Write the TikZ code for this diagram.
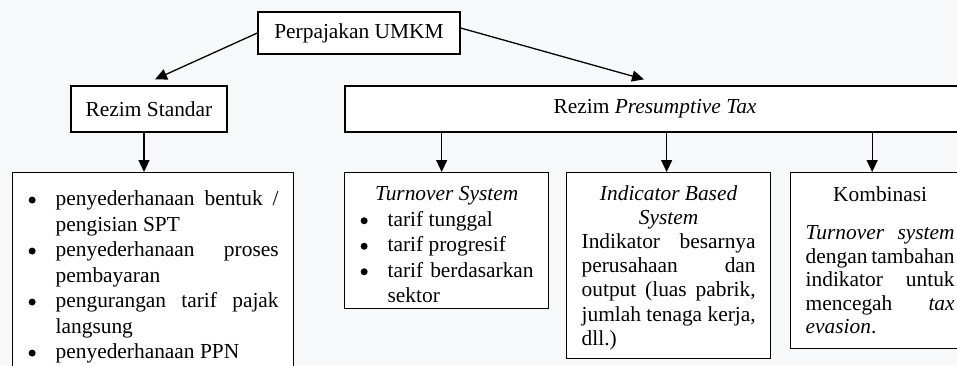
\documentclass[tikz,border=0pt]{standalone}
\usepackage{fontspec}
\setmainfont{Liberation Serif}
\usepackage{tikz}
\usetikzlibrary{arrows.meta}
\definecolor{paper}{RGB}{247,248,250}
\hyphenpenalty=10000
\exhyphenpenalty=10000

% one bullet line of a list
\newcommand{\bitem}[1]{\par\noindent\hangindent=14pt\hangafter=1\makebox[14pt][l]{\hspace{0.5pt}\tikz[baseline=0pt]\fill[black] (0,2.8pt) circle (1.75pt);}#1\par}

\begin{document}
\begin{tikzpicture}[x=0.5pt, y=-0.5pt,
		box/.style={draw, fill=white, line width=0.65pt, inner sep=0pt, font=\fontsize{10.7pt}{12.75pt}\selectfont},
		textbox/.style={box, anchor=north west, inner xsep=7.5pt, align=justify},
		arr/.style={-{Triangle[length=6pt, width=5.5pt]}, line width=0.65pt}]
	  % draws the page
	    \useasboundingbox[fill=paper] (0,0) rectangle (957,365);
	    \clip (0,0) rectangle (957,365);

	  % draws the regimes
	    \node[box, minimum width=101pt, minimum height=21pt] (umkm) at (359,33) {Perpajakan UMKM};
	    \node[box, minimum width=78pt, minimum height=23pt] (standar) at (149,109) {Rezim Standar};
	    \node[box, minimum width=310pt, minimum height=23pt] (presumtif) at (655,109) {Rezim \textit{Presumptive Tax}};

	  % draws the detail boxes
	    \node[textbox, text width=125.5pt, inner ysep=3.75pt] (ringkas) at (12,172) {%
	      \bitem{penyederhanaan bentuk /\linebreak pengisian SPT}
	      \bitem{penyederhanaan proses\linebreak pembayaran}
	      \bitem{pengurangan tarif pajak\linebreak langsung}
	      \bitem{penyederhanaan PPN}};
	    \node[textbox, text width=87pt, minimum height=68pt] (omzet) at (344,172) {%
	      {\centering\rule{0pt}{11.3pt}\textit{Turnover System}\par}
	      \bitem{tarif tunggal}
	      \bitem{tarif progresif}
	      \bitem{tarif berdasarkan\linebreak sektor}};
	    \node[textbox, text width=87pt, minimum height=93pt, font=\fontsize{10.7pt}{12.1pt}\selectfont] (indikator) at (566,172) {%
	      {\centering\rule{0pt}{9.3pt}\textit{Indicator Based}\par\textit{System}\par}
	      \noindent Indikator besarnya\linebreak perusahaan dan\linebreak output (luas pabrik,\linebreak jumlah tenaga kerja,\linebreak dll.)};
	    \node[textbox, text width=74.5pt, minimum height=88pt, font=\fontsize{10.7pt}{11.75pt}\selectfont] (kombinasi) at (790,172) {%
	      {\centering Kombinasi\par}
	      \vspace{7.25pt}
	      \noindent\textit{Turnover system}\linebreak dengan tambahan\linebreak indikator untuk\linebreak mencegah \textit{tax}\linebreak \textit{evasion}.};

	  % draws the arrows
	    \draw[arr] (umkm.west) -- ([xshift=3pt, yshift=3pt]standar.north);
	    \draw[arr] ([yshift=2.5pt]umkm.east) -- ([xshift=-5.5pt, yshift=3pt]presumtif.north);
	    \draw[arr] ([xshift=-2.5pt]standar.south) -- ([xshift=-2.5pt]standar.south |- ringkas.north);
	    \draw[arr] ([xshift=-2.5pt]omzet.north |- presumtif.south) -- ([xshift=-2.5pt]omzet.north);
	    \draw[arr] ([xshift=-1pt]indikator.north |- presumtif.south) -- ([xshift=-1pt]indikator.north);
	    \draw[arr] ([xshift=-4pt]kombinasi.north |- presumtif.south) -- ([xshift=-4pt]kombinasi.north);
	  \end{tikzpicture}
\end{document}
